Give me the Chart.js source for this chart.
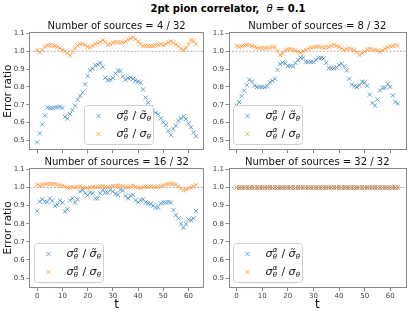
<!DOCTYPE html>
<html>
<head>
<meta charset="utf-8">
<script src="https://cdn.jsdelivr.net/npm/chart.js@4.4.0/dist/chart.umd.min.js"></script>
<style>
  html, body { margin: 0; padding: 0; background: #fff; }
  #fig { position: relative; width: 411px; height: 313px; overflow: hidden; font-family: "DejaVu Sans", sans-serif; }
  #fig canvas { position: absolute; }
  #suptitle { position: absolute; top: 3px; left: 128px; width: 200px; text-align: center;
              font-weight: bold; font-size: 10px; line-height: 12px; white-space: nowrap; }
</style>
</head>
<body>
<div id="fig">
  <div id="suptitle">2pt pion correlator,&nbsp; <i style="font-weight:normal">θ</i> = 0.1</div>
  <canvas id="c0" width="209" height="136" style="left:0;top:20px"></canvas>
  <canvas id="c1" width="203" height="136" style="left:208px;top:20px"></canvas>
  <canvas id="c2" width="209" height="157" style="left:0;top:156px"></canvas>
  <canvas id="c3" width="203" height="157" style="left:208px;top:156px"></canvas>
</div>
<script>
// time slices
const tValues = [
  0, 1, 2, 3, 4, 5, 6, 7, 8, 9, 10, 11, 12, 13, 14, 15,
  16, 17, 18, 19, 20, 21, 22, 23, 24, 25, 26, 27, 28, 29, 30, 31,
  32, 33, 34, 35, 36, 37, 38, 39, 40, 41, 42, 43, 44, 45, 46, 47,
  48, 49, 50, 51, 52, 53, 54, 55, 56, 57, 58, 59, 60, 61, 62, 63
];
const xTicks = [0, 10, 20, 30, 40, 50, 60];
const yTicks = [0.5, 0.6, 0.7, 0.8, 0.9, 1.0, 1.1];
const refLine = 1.0;

const panelTitles = [
  'Number of sources = 4 / 32',
  'Number of sources = 8 / 32',
  'Number of sources = 16 / 32',
  'Number of sources = 32 / 32'
];

// legend labels: [base, superscript, subscript] / [base, superscript, subscript]
const seriesLabels = [
  [['σ', 'α', 'θ'], ['σ\u0303', '', 'θ']],
  [['σ', 'α', 'θ'], ['σ', '', 'θ']]
];

const src4Blue = [
  0.49, 0.54, 0.59, 0.64, 0.685, 0.683, 0.682, 0.685, 0.687, 0.69,
  0.682, 0.632, 0.622, 0.648, 0.67, 0.695, 0.728, 0.75, 0.77, 0.815,
  0.862, 0.893, 0.902, 0.922, 0.925, 0.935, 0.913, 0.852, 0.837, 0.84,
  0.85, 0.875, 0.892, 0.89, 0.86, 0.84, 0.85, 0.853, 0.845, 0.836,
  0.83, 0.824, 0.786, 0.74, 0.712, 0.685, 0.666, 0.655, 0.647, 0.624,
  0.602, 0.587, 0.555, 0.531, 0.565, 0.583, 0.61, 0.624, 0.635, 0.62,
  0.596, 0.574, 0.546, 0.524
];
const src4Orange = [
  1.007, 0.993, 1.008, 1.026, 1.033, 1.033, 1.032, 1.03, 1.025, 1.017,
  1.008, 1.0, 0.99, 0.975, 0.998, 1.017, 1.033, 1.04, 1.042, 1.035,
  1.025, 1.022, 1.03, 1.04, 1.044, 1.053, 1.062, 1.052, 1.035, 1.04,
  1.048, 1.052, 1.05, 1.048, 1.05, 1.055, 1.065, 1.072, 1.077, 1.068,
  1.055, 1.04, 1.03, 1.032, 1.03, 1.03, 1.03, 1.033, 1.035, 1.04,
  1.035, 1.04, 1.05, 1.055, 1.048, 1.038, 1.028, 1.015, 1.008, 1.018,
  1.04, 1.062, 1.058, 1.04
];
const src8Blue = [
  0.696, 0.715, 0.748, 0.78, 0.81, 0.84, 0.83, 0.807, 0.8, 0.8,
  0.8, 0.8, 0.804, 0.826, 0.835, 0.846, 0.896, 0.928, 0.937, 0.933,
  0.918, 0.918, 0.915, 0.935, 0.95, 0.965, 0.965, 0.94, 0.94, 0.94,
  0.94, 0.952, 0.963, 0.963, 0.96, 0.935, 0.905, 0.905, 0.905, 0.91,
  0.922, 0.93, 0.915, 0.893, 0.846, 0.813, 0.804, 0.8, 0.81, 0.83,
  0.826, 0.807, 0.757, 0.71, 0.696, 0.73, 0.78, 0.796, 0.796, 0.817,
  0.8, 0.752, 0.715, 0.707
];
const src8Orange = [
  1.03, 1.025, 1.028, 1.032, 1.035, 1.033, 1.03, 1.025, 1.018, 1.017,
  1.017, 1.017, 1.018, 1.02, 1.025, 1.022, 1.0, 0.98, 0.988, 1.005,
  1.01, 1.012, 1.008, 1.005, 0.998, 0.993, 1.0, 1.008, 1.015, 1.02,
  1.022, 1.025, 1.026, 1.022, 1.02, 1.022, 1.024, 1.03, 1.036, 1.03,
  1.025, 1.017, 1.007, 1.012, 1.015, 1.012, 1.005, 0.995, 0.98, 0.99,
  0.998, 1.01, 1.012, 1.01, 1.008, 1.004, 0.998, 1.005, 1.015, 1.022,
  1.028, 1.03, 1.034, 1.033
];
const src16Blue = [
  0.87, 0.922, 0.935, 0.922, 0.92, 0.94, 0.926, 0.898, 0.904, 0.928,
  0.917, 0.867, 0.88, 0.93, 0.94, 0.917, 0.935, 0.978, 0.987, 0.968,
  0.956, 0.972, 0.968, 0.94, 0.94, 0.968, 0.987, 0.972, 0.972, 0.987,
  0.978, 0.965, 0.96, 0.987, 0.983, 0.954, 0.94, 0.954, 0.96, 0.93,
  0.918, 0.93, 0.935, 0.918, 0.913, 0.91, 0.9, 0.89, 0.89, 0.913,
  0.918, 0.917, 0.92, 0.917, 0.876, 0.848, 0.83, 0.8, 0.778, 0.8,
  0.824, 0.82, 0.83, 0.87
];
const src16Orange = [
  1.015, 1.01, 1.015, 1.018, 1.02, 1.02, 1.018, 1.02, 1.016, 1.012,
  1.01, 1.005, 1.0, 1.0, 1.002, 1.0, 1.004, 1.006, 1.0, 0.998,
  0.997, 1.0, 1.002, 1.0, 1.003, 1.006, 1.008, 1.004, 1.002, 1.006,
  1.008, 1.006, 1.01, 1.01, 1.008, 1.004, 1.002, 1.006, 1.01, 1.004,
  1.0, 0.998, 1.002, 1.005, 1.004, 1.006, 1.005, 1.003, 1.005, 1.008,
  1.012, 1.016, 1.02, 1.022, 1.02, 1.016, 1.008, 0.995, 0.984, 0.99,
  0.995, 1.0, 1.005, 1.015
];
const src32Blue = [
  1.0, 1.0, 1.0, 1.0, 1.0, 1.0, 1.0, 1.0, 1.0, 1.0, 1.0, 1.0, 1.0, 1.0, 1.0, 1.0,
  1.0, 1.0, 1.0, 1.0, 1.0, 1.0, 1.0, 1.0, 1.0, 1.0, 1.0, 1.0, 1.0, 1.0, 1.0, 1.0,
  1.0, 1.0, 1.0, 1.0, 1.0, 1.0, 1.0, 1.0, 1.0, 1.0, 1.0, 1.0, 1.0, 1.0, 1.0, 1.0,
  1.0, 1.0, 1.0, 1.0, 1.0, 1.0, 1.0, 1.0, 1.0, 1.0, 1.0, 1.0, 1.0, 1.0, 1.0, 1.0
];
const src32Orange = [
  1.0, 1.0, 1.0, 1.0, 1.0, 1.0, 1.0, 1.0, 1.0, 1.0, 1.0, 1.0, 1.0, 1.0, 1.0, 1.0,
  1.0, 1.0, 1.0, 1.0, 1.0, 1.0, 1.0, 1.0, 1.0, 1.0, 1.0, 1.0, 1.0, 1.0, 1.0, 1.0,
  1.0, 1.0, 1.0, 1.0, 1.0, 1.0, 1.0, 1.0, 1.0, 1.0, 1.0, 1.0, 1.0, 1.0, 1.0, 1.0,
  1.0, 1.0, 1.0, 1.0, 1.0, 1.0, 1.0, 1.0, 1.0, 1.0, 1.0, 1.0, 1.0, 1.0, 1.0, 1.0
];

const blue = 'rgba(31,119,180,0.65)';
const orange = 'rgba(255,127,14,0.65)';
const FONT = '"DejaVu Sans", sans-serif';

function drawTerm(ctx, x, y, term) {
  const [base, sup, sub] = term;
  ctx.font = 'italic 11px ' + FONT;
  ctx.fillText(base, x, y);
  x += ctx.measureText('σ').width;
  ctx.font = 'italic 7px ' + FONT;
  let w = 0;
  if (sup) { ctx.fillText(sup, x + 0.3, y - 4); w = ctx.measureText(sup).width; }
  if (sub) { ctx.fillText(sub, x + 0.3, y + 3); w = Math.max(w, ctx.measureText(sub).width); }
  return x + w + 0.8;
}

const panelDeco = {
  id: 'panelDeco',
  beforeDatasetsDraw(chart) {
    const { ctx, chartArea: a, scales } = chart;
    const yy = scales.y.getPixelForValue(refLine);
    ctx.save();
    ctx.strokeStyle = 'rgba(120,120,120,0.7)';
    ctx.lineWidth = 0.8;
    ctx.setLineDash([2, 1.5]);
    ctx.beginPath();
    ctx.moveTo(a.left, yy);
    ctx.lineTo(a.right, yy);
    ctx.stroke();
    ctx.restore();
  },
  afterDatasetsDraw(chart, args, opts) {
    const { ctx, chartArea: a } = chart;
    ctx.save();
    // axes frame
    ctx.strokeStyle = '#8a8a8a';
    ctx.lineWidth = 1;
    ctx.strokeRect(Math.round(a.left) + 0.5, Math.round(a.top) + 0.5,
                   Math.round(a.right - a.left) - 1, Math.round(a.bottom - a.top) - 1);

    // legend
    const bw = 69, bh = 39;
    const bx = Math.round(a.left + opts.legendX) + 0.5;
    const by = Math.round(a.bottom - 6 - bh) + 0.5;
    ctx.beginPath();
    ctx.roundRect(bx, by, bw, bh, 3);
    ctx.fillStyle = 'rgba(255,255,255,0.8)';
    ctx.fill();
    ctx.strokeStyle = '#d0d0d0';
    ctx.stroke();

    chart.data.datasets.forEach((ds, i) => {
      const cy = by + 10.5 + i * 18;
      const mx = bx + 14;
      const r = ds.pointRadius * Math.SQRT1_2;
      ctx.strokeStyle = ds.borderColor;
      ctx.lineWidth = 1;
      ctx.beginPath();
      ctx.moveTo(mx - r, cy - r); ctx.lineTo(mx + r, cy + r);
      ctx.moveTo(mx - r, cy + r); ctx.lineTo(mx + r, cy - r);
      ctx.stroke();

      ctx.fillStyle = '#111';
      ctx.textBaseline = 'middle';
      ctx.textAlign = 'left';
      const [num, den] = seriesLabels[i];
      let x = bx + 32;
      x = drawTerm(ctx, x, cy, num);
      ctx.font = '11px ' + FONT;
      ctx.fillText(' / ', x, cy);
      x += ctx.measureText(' / ').width;
      drawTerm(ctx, x, cy, den);
    });
    ctx.restore();
  }
};

function makePanel(id, idx, blueVals, orangeVals, cfg) {
  const toPts = vals => tValues.map((t, k) => ({ x: t, y: vals[k] }));
  return new Chart(document.getElementById(id), {
    type: 'scatter',
    data: {
      datasets: [{
        data: toPts(blueVals),
        pointStyle: 'crossRot',
        pointRadius: 3.0,
        borderColor: blue,
        backgroundColor: blue,
        borderWidth: 1,
        order: 1
      }, {
        data: toPts(orangeVals),
        pointStyle: 'crossRot',
        pointRadius: 3.0,
        borderColor: orange,
        backgroundColor: orange,
        borderWidth: 1,
        order: 0
      }]
    },
    options: {
      responsive: false,
      animation: false,
      events: [],
      layout: { padding: { left: 0, top: 0, right: cfg.padRight, bottom: 0 } },
      plugins: {
        legend: { display: false },
        tooltip: { enabled: false },
        title: {
          display: true,
          text: panelTitles[idx],
          fullSize: false,
          color: '#111',
          font: { family: FONT, size: 10, weight: 'normal' },
          padding: 0
        },
        panelDeco: { legendX: cfg.legendX }
      },
      scales: {
        x: {
          type: 'linear',
          min: -3.15,
          max: 66.15,
          afterBuildTicks: s => { s.ticks = xTicks.map(v => ({ value: v })); },
          afterFit: s => { s.height = cfg.xHeight; },
          ticks: {
            display: true,
            maxRotation: 0,
            padding: 1,
            color: '#444',
            font: { family: FONT, size: 7 },
            callback: v => cfg.showX ? String(v) : ''
          },
          grid: { display: true, drawOnChartArea: false, drawTicks: true, tickLength: 3, color: '#8a8a8a' },
          border: { display: false },
          title: {
            display: cfg.showX,
            text: 't',
            color: '#111',
            font: { family: FONT, size: 12 },
            padding: { top: 0, bottom: 0.5 }
          }
        },
        y: {
          type: 'linear',
          min: 0.445,
          max: 1.108,
          afterBuildTicks: s => { s.ticks = yTicks.map(v => ({ value: v })); },
          afterFit: s => { s.width = cfg.yWidth; },
          ticks: {
            padding: 1.5,
            color: '#444',
            font: { family: FONT, size: 7 },
            callback: v => v.toFixed(1)
          },
          grid: { display: true, drawOnChartArea: false, drawTicks: true, tickLength: 3, color: '#8a8a8a' },
          border: { display: false },
          title: {
            display: cfg.showYTitle,
            text: 'Error ratio',
            color: '#111',
            font: { family: FONT, size: 10.5 },
            padding: { top: 1.5, bottom: 0 }
          }
        }
      }
    },
    plugins: [panelDeco]
  });
}

makePanel('c0', 0, src4Blue, src4Orange,
  { padRight: 0.7, yWidth: 29.3, xHeight: 4, showX: false, showYTitle: true, legendX: 55 });
makePanel('c1', 1, src8Blue, src8Orange,
  { padRight: 3.7, yWidth: 20.5, xHeight: 4, showX: false, showYTitle: false, legendX: 4.5 });
makePanel('c2', 2, src16Blue, src16Orange,
  { padRight: 0.7, yWidth: 29.3, xHeight: 25, showX: true, showYTitle: true, legendX: 4.5 });
makePanel('c3', 3, src32Blue, src32Orange,
  { padRight: 3.7, yWidth: 20.5, xHeight: 25, showX: true, showYTitle: false, legendX: 4.5 });
</script>
</body>
</html>
